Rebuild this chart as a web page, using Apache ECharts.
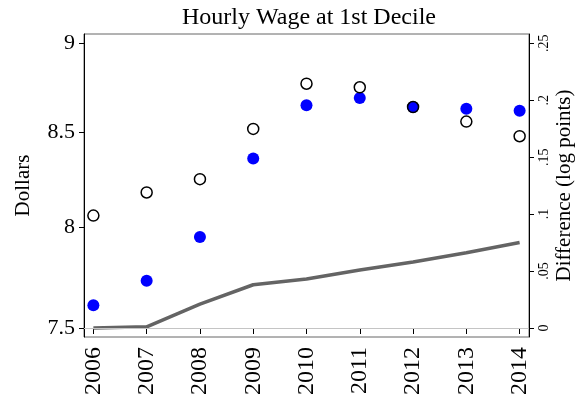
<!DOCTYPE html>
<html style="height: 100%">

<head>
  <meta charset="utf-8">
</head>

<body style="height: 100%; margin: 0; background: #fff">
  <div id="container" style="width: 578px; height: 402px"></div>
  <script type="text/javascript" src="https://cdn.jsdelivr.net/npm/echarts@6/dist/echarts.min.js"></script>
  <script type="text/javascript">
    // data
    var years = [2006, 2007, 2008, 2009, 2010, 2011, 2012, 2013, 2014];
    var wageFilled = [7.61, 7.73, 7.95, 8.36, 8.65, 8.69, 8.64, 8.63, 8.62];
    var wageHollow = [8.06, 8.18, 8.25, 8.52, 8.77, 8.75, 8.64, 8.56, 8.48];
    var logDiff = [0.000, 0.001, 0.021, 0.038, 0.043, 0.051, 0.058, 0.066, 0.075];
    var dollarTicks = [7.5, 8, 8.5, 9];
    var diffTicks = [0, 0.05, 0.1, 0.15, 0.2, 0.25];

    var font = '"Liberation Serif", "DejaVu Serif", serif';

    // dollars are on a log scale: plot ln(value) on a plain value axis
    function logPairs(vals) {
      return years.map(function (y, i) { return [y, Math.log(vals[i])]; });
    }
    function pairs(vals) {
      return years.map(function (y, i) { return [y, vals[i]]; });
    }

    var dom = document.getElementById("container");
    var myChart = echarts.init(dom, null, { renderer: 'canvas' });
    var option = {
      animation: false,
      backgroundColor: '#fff',
      title: {
        text: 'Hourly Wage at 1st Decile',
        left: 177,
        top: 1,
        textStyle: { fontFamily: font, fontSize: 24, fontWeight: 'normal', color: '#000' }
      },
      grid: {
        left: 84, right: 49, top: 34, bottom: 65,
        outerBoundsMode: 'none',
        containLabel: false,
        show: true, borderColor: '#666', borderWidth: 1
      },
      xAxis: {
        type: 'value',
        min: 2005.824, max: 2014.176,
        splitLine: { show: false },
        axisLine: { lineStyle: { color: '#000', width: 1 } },
        axisTick: { length: 6, customValues: years, lineStyle: { color: '#000' } },
        axisLabel: {
          customValues: years,
          rotate: 90, margin: 10,
          fontFamily: font, fontSize: 24, color: '#000',
          formatter: function (v) { return String(v); }
        }
      },
      yAxis: [{
        type: 'value',
        position: 'left',
        min: Math.log(7.5) - 9 / 1563.2,
        max: Math.log(9) + 9.3 / 1563.2,
        name: 'Dollars',
        nameLocation: 'middle',
        nameGap: 50,
        nameTextStyle: { fontFamily: font, fontSize: 21, color: '#000' },
        splitLine: { show: false },
        axisLine: { show: true, lineStyle: { color: '#000', width: 1 } },
        axisTick: { length: 5, customValues: dollarTicks.map(Math.log), lineStyle: { color: '#000' } },
        axisLabel: {
          customValues: dollarTicks.map(Math.log),
          margin: 9,
          fontFamily: font, fontSize: 22, color: '#000',
          formatter: function (v) { return String(Math.round(Math.exp(v) * 10) / 10); }
        }
      }, {
        type: 'value',
        position: 'right',
        min: -9 / 1140,
        max: 0.25 + 9.3 / 1140,
        name: 'Difference (log points)',
        nameLocation: 'middle',
        nameGap: 25,
        nameMoveOverlap: false,
        nameRotate: 90,
        nameTextStyle: { fontFamily: font, fontSize: 21, color: '#000' },
        splitLine: { show: false },
        axisLine: { show: true, lineStyle: { color: '#000', width: 1 } },
        axisTick: { length: 5, customValues: diffTicks, lineStyle: { color: '#000' } },
        axisLabel: {
          customValues: diffTicks,
          rotate: 90, margin: 8,
          fontFamily: font, fontSize: 14, color: '#000',
          formatter: function (v) { return v === 0 ? '0' : String(+v.toFixed(2)).replace(/^0/, ''); }
        }
      }],
      series: [{
        name: 'difference',
        type: 'line',
        yAxisIndex: 1,
        data: pairs(logDiff),
        symbol: 'none',
        lineStyle: { color: '#646464', width: 3.5 },
        markLine: {
          silent: true,
          symbol: 'none',
          label: { show: false },
          lineStyle: { color: '#c4c4c4', width: 1, type: 'solid' },
          data: [{ yAxis: 0 }]
        },
        z: 2
      }, {
        name: 'filled',
        type: 'scatter',
        yAxisIndex: 0,
        data: logPairs(wageFilled),
        symbol: 'circle',
        symbolSize: 12,
        itemStyle: { color: '#0000ff', opacity: 1 },
        z: 3
      }, {
        name: 'hollow',
        type: 'scatter',
        yAxisIndex: 0,
        data: logPairs(wageHollow),
        symbol: 'circle',
        symbolSize: 11,
        itemStyle: { color: 'rgba(0,0,0,0)', borderColor: '#000', borderWidth: 1.5, opacity: 1 },
        z: 4
      }]
    };
    myChart.setOption(option);
  </script>
</body>

</html>
